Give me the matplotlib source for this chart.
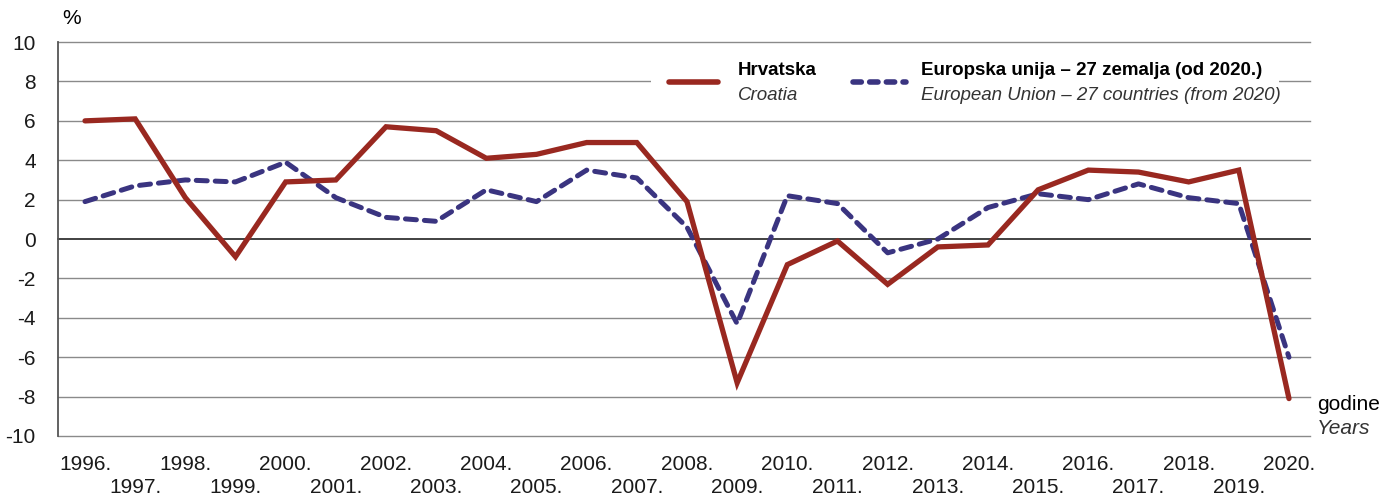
import numpy as np
import matplotlib.pyplot as plt
from matplotlib import font_manager

# -----------------------------
# Podaci
# -----------------------------
godine = list(range(1996, 2021))
hrvatska = [6.0, 6.1, 2.1, -0.9, 2.9, 3.0, 5.7, 5.5, 4.1, 4.3, 4.9, 4.9, 1.9,
            -7.3, -1.3, -0.1, -2.3, -0.4, -0.3, 2.5, 3.5, 3.4, 2.9, 3.5, -8.1]
eu27 = [1.9, 2.7, 3.0, 2.9, 3.9, 2.1, 1.1, 0.9, 2.5, 1.9, 3.5, 3.1, 0.6,
        -4.3, 2.2, 1.8, -0.7, 0.0, 1.6, 2.3, 2.0, 2.8, 2.1, 1.8, -6.0]
y_ticks = list(range(-10, 11, 2))

names = {f.name for f in font_manager.fontManager.ttflist}
font = "Liberation Sans Narrow" if "Liberation Sans Narrow" in names else "Liberation Sans"
plt.rcParams['font.family'] = [font, 'DejaVu Sans']

RED = "#992820"
BLUE = "#3a3480"

fig = plt.figure(figsize=(13.79, 4.98), dpi=100)
ax = fig.add_axes([0.042, 0.1245, 0.908, 0.791])

for y in y_ticks:
    ax.axhline(y, color="#333333" if y == 0 else "#8a8a8a",
               lw=1.3 if y == 0 else 1.0, zorder=1, clip_on=False)

ax.plot(godine, eu27, color=BLUE, lw=3.6, dashes=(2.2, 1.6), zorder=3,
        solid_capstyle="round", dash_capstyle="round")
ax.plot(godine, hrvatska, color=RED, lw=3.8, zorder=4,
        solid_joinstyle="miter", solid_capstyle="round")

ax.set_xlim(1995.46, 2020.42)
ax.set_ylim(-10, 10)
ax.set_yticks(y_ticks)
ax.set_yticklabels([str(v) for v in y_ticks], fontsize=15, color="#1a1a1a")
ax.set_xticks(godine)
ax.set_xticklabels([f"{g}." if g % 2 == 0 else f"\n{g}." for g in godine],
                   fontsize=15, linespacing=1.25, color="#1a1a1a")
ax.tick_params(axis="x", length=0, pad=14)
ax.tick_params(axis="y", length=0, pad=16)
for s in ["top", "right", "bottom"]:
    ax.spines[s].set_visible(False)
ax.spines["left"].set_color("#555555")
ax.spines["left"].set_linewidth(1.3)

fig.text(0.045, 0.962, "%", fontsize=15, ha="left", va="center")
fig.text(0.955, 0.188, "godine", fontsize=15, ha="left", va="center")
fig.text(0.955, 0.14, "Years", fontsize=15, style="italic", ha="left", va="center", color="#333333")

# Legenda
ax.add_patch(plt.Rectangle((0.4735, 0.825), 0.5017, 0.155, transform=ax.transAxes,
                           facecolor="white", edgecolor="none", zorder=5))
ax.plot([0.488, 0.527], [0.898, 0.898], transform=ax.transAxes, color=RED, lw=4,
        solid_capstyle="round", zorder=6)
ax.text(0.543, 0.929, "Hrvatska", transform=ax.transAxes, fontsize=13.5, weight="bold",
        va="center", zorder=6)
ax.text(0.543, 0.865, "Croatia", transform=ax.transAxes, fontsize=13.5, style="italic",
        va="center", color="#333333", zorder=6)
ax.plot([0.635, 0.677], [0.898, 0.898], transform=ax.transAxes, color=BLUE, lw=4,
        dashes=(1.5, 1.5), dash_capstyle="round", zorder=6)
ax.text(0.689, 0.929, "Europska unija – 27 zemalja (od 2020.)", transform=ax.transAxes,
        fontsize=13.5, weight="bold", va="center", zorder=6)
ax.text(0.689, 0.865, "European Union – 27 countries (from 2020)", transform=ax.transAxes,
        fontsize=13.5, style="italic", va="center", color="#333333", zorder=6)

fig.savefig("out.png", dpi=100)
